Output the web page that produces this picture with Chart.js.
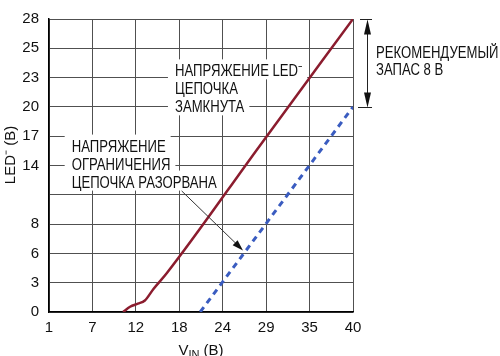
<!DOCTYPE html>
<html><head><meta charset="utf-8">
<script src="https://cdn.jsdelivr.net/npm/chart.js@4/dist/chart.umd.min.js"></script>
<style>html,body{margin:0;padding:0;background:#fff}#wrap{width:500px;height:356px}</style>
</head><body><div id="wrap"><canvas id="c" width="500" height="356"></canvas></div>
<script>
// ---- data ----
const xTickLabels = ['1','7','12','18','24','29','35','40'];
const yTickLabels = ['0','3','6','8','','14','17','20','23','25','28'];
const closedX = [10.5, 11.4, 12.4, 13.3, 14.4, 16.1, 28, 40];
const closedY = [0, 0.5, 0.8, 1.1, 2.2, 3.7, 15.85, 28];
const openX = [20.4, 40];
const openY = [0, 19.6];
const X_MIN = 1, X_MAX = 40, Y_MIN = 0, Y_MAX = 28;

const annoTopLines = ['НАПРЯЖЕНИЕ LED⁻', 'ЦЕПОЧКА', 'ЗАМКНУТА'];
const annoTopPos = [17.16, 22.52];
const annoLeftLines = ['НАПРЯЖЕНИЕ', 'ОГРАНИЧЕНИЯ', 'ЦЕПОЧКА РАЗОРВАНА'];
const annoLeftPos = [3.91, 15.33];
const annoRightLines = ['РЕКОМЕНДУЕМЫЙ', 'ЗАПАС 8 В'];
const annoRightPos = [42.95, 24.24];
const marginArrow = {x: 41.8, y1: 28, y2: 19.6, capX1: 40.9, capX2: 42.44};
const pointerArrow = {x1: 18.02, y1: 11.57, x2: 25.89, y2: 5.88};
const yTitle = 'LED⁻ (В)';

const FONT = "'Liberation Sans', Arial, sans-serif";
const SX = 0.82; // horizontal condensing of the narrow typeface
Chart.defaults.font.family = FONT;
Chart.defaults.color = '#111';

const toPts = (xs, ys) => xs.map((x, i) => ({x, y: ys[i]}));

function cText(ctx, t, x, y, sx = SX) {
  ctx.save(); ctx.translate(x, y); ctx.scale(sx, 1); ctx.fillText(t, 0, 0); ctx.restore();
  return ctx.measureText(t).width * sx;
}
function cWidth(ctx, t, sx = SX) { return ctx.measureText(t).width * sx; }

function arrowHead(ctx, x1, y1, x2, y2, len, hw) {
  const a = Math.atan2(y2 - y1, x2 - x1);
  const bx = x2 - len * Math.cos(a), by = y2 - len * Math.sin(a);
  const px = -Math.sin(a) * hw, py = Math.cos(a) * hw;
  ctx.beginPath();
  ctx.moveTo(x2, y2);
  ctx.lineTo(bx + px, by + py);
  ctx.lineTo(bx - px, by - py);
  ctx.closePath();
  ctx.fill();
}

function textBlock(ctx, xs, ys, lines, pos, spacing, boxes) {
  const x0 = xs.getPixelForValue(pos[0]);
  const y0 = ys.getPixelForValue(pos[1]);
  ctx.font = "16px " + FONT;
  ctx.textBaseline = 'alphabetic';
  ctx.textAlign = 'left';
  if (boxes) {
    ctx.fillStyle = '#fff';
    lines.forEach((t, i) => {
      const by = y0 + i * spacing;
      ctx.fillRect(x0 - 7, by - 17, cWidth(ctx, t) + 12, spacing + 2);
    });
  }
  ctx.fillStyle = '#111';
  lines.forEach((t, i) => cText(ctx, t, x0, y0 + i * spacing));
}

const annoPlugin = {
  id: 'anno',
  beforeDatasetsDraw(chart) {
    const ctx = chart.ctx, xs = chart.scales.x, ys = chart.scales.y;
    ctx.save();
    textBlock(ctx, xs, ys, annoTopLines, annoTopPos, 18, true);
    textBlock(ctx, xs, ys, annoLeftLines, annoLeftPos, 18, true);
    ctx.restore();
  },
  afterDatasetsDraw(chart) {
    const ctx = chart.ctx, xs = chart.scales.x, ys = chart.scales.y;
    ctx.save();
    textBlock(ctx, xs, ys, annoRightLines, annoRightPos, 17, false);
    // margin arrow
    const mx = Math.round(xs.getPixelForValue(marginArrow.x)) + 0.5;
    const t = Math.round(ys.getPixelForValue(marginArrow.y1)) + 0.5;
    const b = Math.round(ys.getPixelForValue(marginArrow.y2)) + 0.5;
    const c1 = xs.getPixelForValue(marginArrow.capX1), c2 = xs.getPixelForValue(marginArrow.capX2);
    ctx.strokeStyle = '#222'; ctx.fillStyle = '#111'; ctx.lineWidth = 1;
    ctx.beginPath();
    ctx.moveTo(c1, t); ctx.lineTo(c2, t);
    ctx.moveTo(c1 - 2, b); ctx.lineTo(c2, b);
    ctx.moveTo(mx, t + 10); ctx.lineTo(mx, b - 10);
    ctx.stroke();
    arrowHead(ctx, mx, b, mx, t, 15, 3.5);
    arrowHead(ctx, mx, t, mx, b, 15, 3.5);
    // pointer arrow
    const p1x = xs.getPixelForValue(pointerArrow.x1), p1y = ys.getPixelForValue(pointerArrow.y1);
    const p2x = xs.getPixelForValue(pointerArrow.x2), p2y = ys.getPixelForValue(pointerArrow.y2);
    ctx.strokeStyle = '#333'; ctx.lineWidth = 1;
    ctx.beginPath(); ctx.moveTo(p1x, p1y); ctx.lineTo(p2x - 6, p2y - 6); ctx.stroke();
    arrowHead(ctx, p1x, p1y, p2x, p2y, 11, 3.5);
    ctx.restore();
  },
  afterDraw(chart) {
    const ctx = chart.ctx, ca = chart.chartArea;
    ctx.save();
    ctx.fillStyle = '#111';
    ctx.textBaseline = 'alphabetic';
    ctx.textAlign = 'left';
    // x axis title with subscript
    const big = "15px " + FONT, small = "11px " + FONT;
    ctx.font = big; const wV = cWidth(ctx, 'V', 1);
    ctx.font = small; const wIN = cWidth(ctx, 'IN', 1);
    ctx.font = big; const wB = cWidth(ctx, ' (В)', 1);
    let x = (ca.left + ca.right) / 2 - (wV + wIN + wB) / 2;
    const base = 355;
    ctx.font = big; x += cText(ctx, 'V', x, base, 1);
    ctx.font = small; x += cText(ctx, 'IN', x, base + 3, 1);
    ctx.font = big; cText(ctx, ' (В)', x, base, 1);
    // y axis title, rotated
    ctx.font = big;
    const w = cWidth(ctx, yTitle, 1);
    ctx.translate(15, 155);
    ctx.rotate(-Math.PI / 2);
    cText(ctx, yTitle, -w / 2, 0, 1);
    ctx.restore();
  }
};

new Chart(document.getElementById('c'), {
  type: 'line',
  data: {
    datasets: [
      {data: toPts(closedX, closedY), borderColor: '#8b1c2e', borderWidth: 2.5, pointRadius: 0,
       cubicInterpolationMode: 'monotone', fill: false},
      {data: toPts(openX, openY), borderColor: '#3a5cc0', borderWidth: 3, borderDash: [6, 5],
       pointRadius: 0, fill: false}
    ]
  },
  options: {
    responsive: false, animation: false, devicePixelRatio: 1,
    layout: {padding: {left: 0, right: 147, top: 7, bottom: 0}},
    plugins: {legend: {display: false}, tooltip: {enabled: false}},
    scales: {
      x: {
        type: 'linear', min: X_MIN, max: X_MAX,
        afterBuildTicks: s => { s.ticks = xTickLabels.map((l, i) => ({value: X_MIN + i * (X_MAX - X_MIN) / (xTickLabels.length - 1)})); },
        afterFit: s => { s.height = 44; },
        ticks: {autoSkip: false, maxRotation: 0, padding: 7, font: {size: 15}, color: '#111',
                callback: (v, i) => xTickLabels[i]},
        grid: {color: '#505050', lineWidth: 1, drawTicks: false},
        border: {color: '#000', width: 1.5}
      },
      y: {
        type: 'linear', min: Y_MIN, max: Y_MAX,
        afterBuildTicks: s => { s.ticks = yTickLabels.map((l, i) => ({value: Y_MIN + i * (Y_MAX - Y_MIN) / (yTickLabels.length - 1)})); },
        afterFit: s => { s.width = 49; },
        ticks: {autoSkip: false, padding: 10, font: {size: 15}, color: '#111',
                callback: (v, i) => yTickLabels[i]},
        grid: {color: '#505050', lineWidth: 1, drawTicks: false},
        border: {color: '#000', width: 1.5},
        title: {display: false}
      }
    }
  },
  plugins: [annoPlugin]
});
</script></body></html>
